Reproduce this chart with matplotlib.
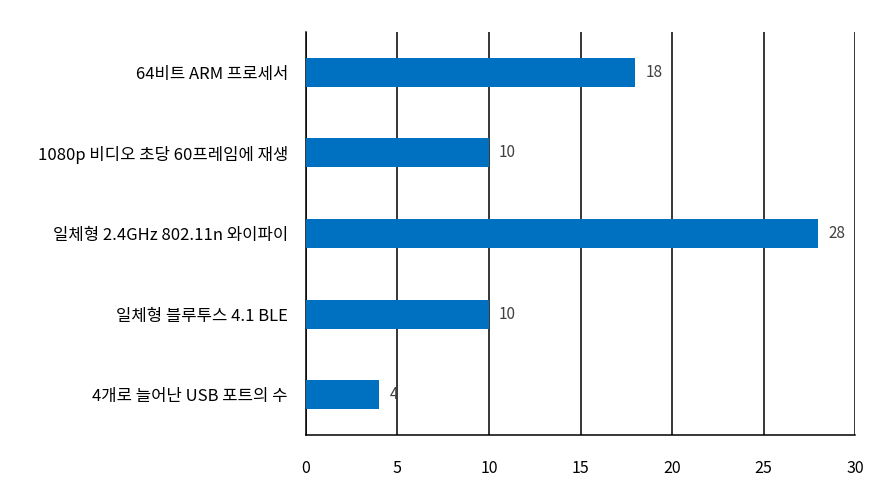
import matplotlib
matplotlib.use("Agg")
import matplotlib.pyplot as plt

plt.rcParams['font.family'] = ['Noto Sans CJK KR', 'DejaVu Sans']

# data
features = [
    "64비트 ARM 프로세서",
    "1080p 비디오 초당 60프레임에 재생",
    "일체형 2.4GHz 802.11n 와이파이",
    "일체형 블루투스 4.1 BLE",
    "4개로 늘어난 USB 포트의 수",
]
values = [18, 10, 28, 10, 4]
xticks = [0, 5, 10, 15, 20, 25, 30]

fig = plt.figure(figsize=(8.7, 4.92), dpi=100)
ax = fig.add_axes([306 / 870, 57 / 492, 549 / 870, 403 / 492])

pos = list(range(len(features)))
ax.barh(pos, values, height=0.36, color="#0070C0", zorder=3)

for p, v in zip(pos, values):
    ax.text(v + 0.55, p, str(v), va="center", ha="left", fontsize=11, color="#404040")

ax.set_xlim(0, 30)
ax.set_ylim(4.5, -0.5)
ax.set_yticks(pos)
ax.set_yticklabels(features, fontsize=12)
ax.set_xticks(xticks)
ax.set_xticklabels([str(t) for t in xticks], fontsize=11.5)
ax.tick_params(axis="both", length=0)
ax.tick_params(axis="x", pad=18)
ax.tick_params(axis="y", pad=13)

ax.grid(axis="x", color="black", linewidth=1.1, zorder=0)
for s in ["top", "right"]:
    ax.spines[s].set_visible(False)
ax.spines["left"].set_linewidth(1.1)
ax.spines["bottom"].set_linewidth(1.1)

fig.savefig("out.png", dpi=100)
